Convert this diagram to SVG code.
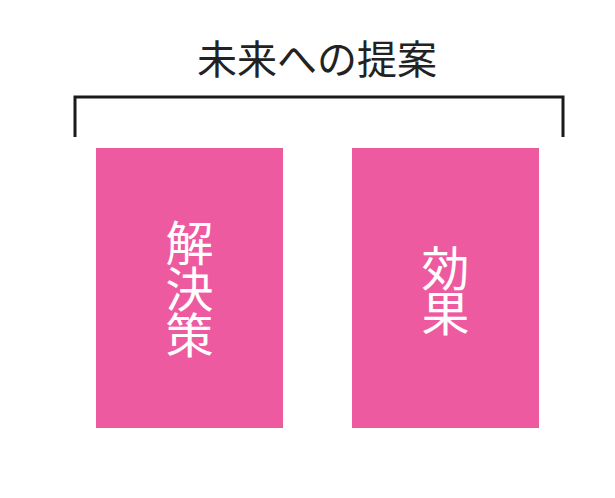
<svg xmlns="http://www.w3.org/2000/svg" width="615" height="498" viewBox="0 0 615 498">
<style>
.box{fill:#EE5A9F}
.lbl{font-family:"Noto Sans CJK JP",sans-serif;font-size:48px;fill:#ffffff;text-anchor:middle;writing-mode:vertical-rl}
.title{font-family:"Noto Sans CJK JP",sans-serif;font-size:40px;fill:#222222;text-anchor:middle}
.br{fill:none;stroke:#1a1a1a;stroke-width:3}
</style>
<rect width="615" height="498" fill="#ffffff"/>
<g id="title"><text class="title" x="317" y="74">未来への提案</text></g>
<g id="connectors"><path class="br" d="M75,137 V97 H563 V137"/></g>
<g id="solution">
<rect class="box" x="96" y="148" width="187" height="280"/>
<text class="lbl" x="189.5" y="288" letter-spacing="-2">解決策</text>
</g>
<g id="effect">
<rect class="box" x="352" y="148" width="187" height="280"/>
<text class="lbl" x="445.5" y="289" letter-spacing="-3">効果</text>
</g>
</svg>
